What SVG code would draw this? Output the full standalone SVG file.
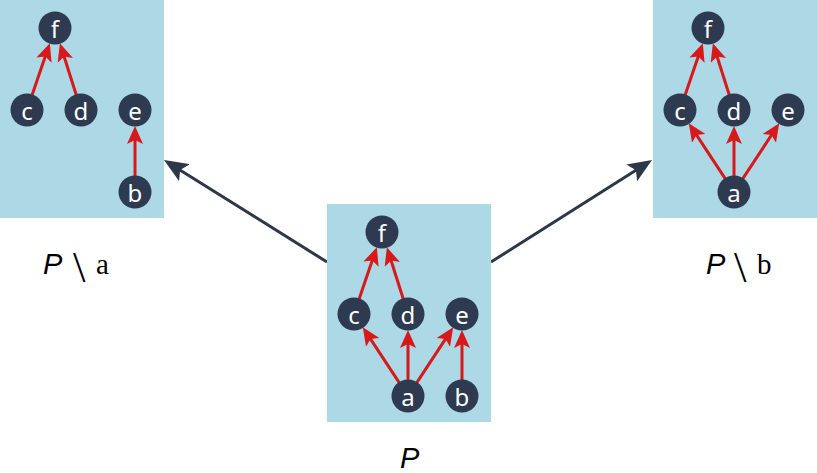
<svg xmlns="http://www.w3.org/2000/svg" width="817" height="473" viewBox="0 0 817 473">
  <style>
    .box { fill: #add8e6; }
    .node circle { fill: #2e3a4f; }
    .node text { fill: #ffffff; font-family: "Noto Sans", "Open Sans", "DejaVu Sans", sans-serif; font-size: 24px; text-anchor: middle; dominant-baseline: central; }
    .edge { stroke: #d7191c; stroke-width: 3; fill: none; marker-end: url(#redhead); }
    .link { stroke: #2d3748; stroke-width: 3; fill: none; marker-end: url(#darkhead); }
    .lbl { font-size: 29px; fill: #000; }
    .pi { font-family: "Liberation Sans", Arial, sans-serif; font-style: italic; }
    .sm { font-family: "Liberation Serif", "Times New Roman", serif; font-size: 45px; }
    .rm { font-family: "Liberation Serif", "Times New Roman", serif; }
  </style>
  <defs>
    <marker id="redhead" markerUnits="userSpaceOnUse" markerWidth="18" markerHeight="16" refX="8" refY="8" orient="auto" viewBox="0 0 18 16">
      <path d="M0,0 L18,8 L0,16 L4,8 z" fill="#d7191c"/>
    </marker>
    <marker id="darkhead" markerUnits="userSpaceOnUse" markerWidth="24" markerHeight="20" refX="10" refY="10" orient="auto" viewBox="0 0 24 20">
      <path d="M0,0 L24,10 L0,20 L5,10 z" fill="#2d3748"/>
    </marker>
    <!-- edge sets in box-local coordinates -->
    <g id="e-cf"><line class="edge" x1="32.2" y1="94.8" x2="46.6" y2="52.6"/></g>
    <g id="e-df"><line class="edge" x1="76.2" y1="94.7" x2="62.9" y2="52.8"/></g>
    <g id="e-ac"><line class="edge" x1="72.2" y1="178.6" x2="41.3" y2="131.7"/></g>
    <g id="e-ad"><line class="edge" x1="81" y1="176" x2="81" y2="136"/></g>
    <g id="e-ae"><line class="edge" x1="89.8" y1="178.6" x2="120.7" y2="131.7"/></g>
    <g id="e-be"><line class="edge" x1="135" y1="176" x2="135" y2="136"/></g>
  </defs>

  <!-- links between the posets -->
  <g id="connectors">
    <line class="link" x1="327" y1="262" x2="175.9" y2="167.4"/>
    <line class="link" x1="491" y1="262" x2="640.2" y2="167.5"/>
  </g>

  <!-- P \ a -->
  <g id="poset-minus-a" transform="translate(0,0)">
    <rect class="box" x="0" y="0" width="164" height="218"/>
    <g id="pa-edges">
      <use href="#e-cf"/><use href="#e-df"/><use href="#e-be"/>
    </g>
    <g id="pa-f" class="node"><circle cx="55" cy="28" r="16.5"/><text x="55" y="28">f</text></g>
    <g id="pa-c" class="node"><circle cx="27" cy="110" r="16.5"/><text x="27" y="110">c</text></g>
    <g id="pa-d" class="node"><circle cx="81" cy="110" r="16.5"/><text x="81" y="110">d</text></g>
    <g id="pa-e" class="node"><circle cx="135" cy="110" r="16.5"/><text x="135" y="110">e</text></g>
    <g id="pa-b" class="node"><circle cx="135" cy="192" r="16.5"/><text x="135" y="192">b</text></g>
  </g>

  <!-- P \ b -->
  <g id="poset-minus-b" transform="translate(653,0)">
    <rect class="box" x="0" y="0" width="164" height="218"/>
    <g id="pb-edges">
      <use href="#e-cf"/><use href="#e-df"/><use href="#e-ac"/><use href="#e-ad"/><use href="#e-ae"/>
    </g>
    <g id="pb-f" class="node"><circle cx="55" cy="28" r="16.5"/><text x="55" y="28">f</text></g>
    <g id="pb-c" class="node"><circle cx="27" cy="110" r="16.5"/><text x="27" y="110">c</text></g>
    <g id="pb-d" class="node"><circle cx="81" cy="110" r="16.5"/><text x="81" y="110">d</text></g>
    <g id="pb-e" class="node"><circle cx="135" cy="110" r="16.5"/><text x="135" y="110">e</text></g>
    <g id="pb-a" class="node"><circle cx="81" cy="192" r="16.5"/><text x="81" y="192">a</text></g>
  </g>

  <!-- P -->
  <g id="poset" transform="translate(327,204)">
    <rect class="box" x="0" y="0" width="164" height="218"/>
    <g id="p-edges">
      <use href="#e-cf"/><use href="#e-df"/><use href="#e-ac"/><use href="#e-ad"/><use href="#e-ae"/><use href="#e-be"/>
    </g>
    <g id="p-f" class="node"><circle cx="55" cy="28" r="16.5"/><text x="55" y="28">f</text></g>
    <g id="p-c" class="node"><circle cx="27" cy="110" r="16.5"/><text x="27" y="110">c</text></g>
    <g id="p-d" class="node"><circle cx="81" cy="110" r="16.5"/><text x="81" y="110">d</text></g>
    <g id="p-e" class="node"><circle cx="135" cy="110" r="16.5"/><text x="135" y="110">e</text></g>
    <g id="p-a" class="node"><circle cx="81" cy="192" r="16.5"/><text x="81" y="192">a</text></g>
    <g id="p-b" class="node"><circle cx="135" cy="192" r="16.5"/><text x="135" y="192">b</text></g>
  </g>

  <!-- captions -->
  <text class="lbl" x="43" y="274"><tspan class="pi">P</tspan><tspan class="sm" x="73" y="282">\</tspan><tspan class="rm" x="96" y="274">a</tspan></text>
  <text class="lbl" x="706" y="274"><tspan class="pi">P</tspan><tspan class="sm" x="734" y="282">\</tspan><tspan class="rm" x="757" y="274">b</tspan></text>
  <text class="lbl pi" x="400" y="468">P</text>
</svg>
